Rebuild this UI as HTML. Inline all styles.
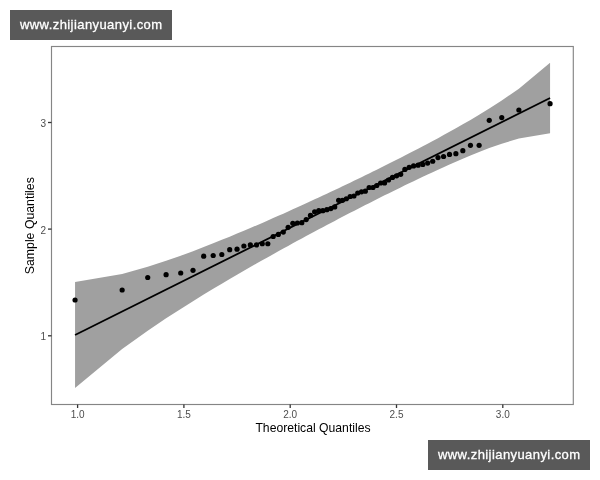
<!DOCTYPE html>
<html><head><meta charset="utf-8"><style>
html,body{margin:0;padding:0;background:#fff;width:600px;height:480px;overflow:hidden}
.wm{position:absolute;background:#595959;color:#fff;font-family:"Liberation Sans",sans-serif;font-size:13px;letter-spacing:0.42px;-webkit-text-stroke:0.3px #fff;white-space:nowrap;will-change:transform}
svg text{font-family:"Liberation Sans",sans-serif}
</style></head><body>
<svg width="600" height="480" viewBox="0 0 600 480" style="position:absolute;left:0;top:0;will-change:transform">
<rect x="0" y="0" width="600" height="480" fill="#fff"/>
<polygon points="75.05,281.88 122.15,273.96 147.73,266.76 166.10,260.79 180.72,255.66 193.01,251.13 203.69,247.05 213.20,243.32 221.81,239.87 229.71,236.65 237.04,233.62 243.89,230.75 250.34,228.02 256.46,225.40 262.28,222.88 267.84,220.46 273.18,218.11 278.33,215.84 283.31,213.63 288.13,211.47 292.82,209.36 297.38,207.29 301.84,205.26 306.19,203.27 310.46,201.31 314.66,199.37 318.78,197.46 322.85,195.57 326.85,193.69 330.82,191.83 334.74,189.98 338.62,188.14 342.48,186.31 346.31,184.48 350.13,182.65 353.93,180.82 357.72,178.99 361.52,177.15 365.31,175.30 369.12,173.44 372.94,171.56 376.78,169.67 380.65,167.75 384.55,165.81 388.50,163.83 392.50,161.82 396.55,159.78 400.68,157.68 404.88,155.54 409.18,153.33 413.59,151.05 418.12,148.69 422.80,146.24 427.65,143.68 432.71,140.99 438.00,138.14 443.58,135.11 449.52,131.84 455.89,128.29 462.81,124.36 470.47,119.93 479.13,114.79 489.26,108.57 501.76,100.52 518.88,88.63 550.07,62.65 550.07,133.35 518.88,138.51 501.76,143.68 489.26,148.11 479.13,152.00 470.47,155.50 462.81,158.71 455.89,161.70 449.52,164.50 443.58,167.15 438.00,169.69 432.71,172.13 427.65,174.48 422.80,176.76 418.12,178.97 413.59,181.14 409.18,183.26 404.88,185.34 400.68,187.39 396.55,189.41 392.50,191.41 388.50,193.39 384.55,195.36 380.65,197.31 376.78,199.25 372.94,201.19 369.12,203.13 365.31,205.07 361.52,207.01 357.72,208.95 353.93,210.90 350.13,212.87 346.31,214.85 342.48,216.84 338.62,218.85 334.74,220.89 330.82,222.95 326.85,225.05 322.85,227.17 318.78,229.33 314.66,231.54 310.46,233.78 306.19,236.08 301.84,238.44 297.38,240.86 292.82,243.35 288.13,245.91 283.31,248.57 278.33,251.32 273.18,254.18 267.84,257.16 262.28,260.29 256.46,263.59 250.34,267.07 243.89,270.77 237.04,274.74 229.71,279.02 221.81,283.68 213.20,288.82 203.69,294.58 193.01,301.17 180.72,308.90 166.10,318.36 147.73,330.72 122.15,349.05 75.05,388.12" fill="#a0a0a0"/>
<line x1="75.05" y1="335.00" x2="550.07" y2="98.00" stroke="#000" stroke-width="1.8"/>
<g fill="#000"><circle cx="75.05" cy="300.00" r="2.6"/><circle cx="122.15" cy="290.00" r="2.6"/><circle cx="147.73" cy="277.50" r="2.6"/><circle cx="166.10" cy="274.70" r="2.6"/><circle cx="180.72" cy="273.00" r="2.6"/><circle cx="193.01" cy="270.30" r="2.6"/><circle cx="203.69" cy="256.20" r="2.6"/><circle cx="213.20" cy="255.50" r="2.6"/><circle cx="221.81" cy="254.50" r="2.6"/><circle cx="229.71" cy="249.70" r="2.6"/><circle cx="237.04" cy="249.20" r="2.6"/><circle cx="243.89" cy="246.00" r="2.6"/><circle cx="250.34" cy="244.90" r="2.6"/><circle cx="256.46" cy="244.90" r="2.6"/><circle cx="262.28" cy="243.75" r="2.6"/><circle cx="267.84" cy="243.75" r="2.6"/><circle cx="273.18" cy="236.50" r="2.6"/><circle cx="278.33" cy="234.40" r="2.6"/><circle cx="283.31" cy="232.10" r="2.6"/><circle cx="288.13" cy="227.30" r="2.6"/><circle cx="292.82" cy="223.30" r="2.6"/><circle cx="297.38" cy="223.00" r="2.6"/><circle cx="301.84" cy="222.70" r="2.6"/><circle cx="306.19" cy="219.60" r="2.6"/><circle cx="310.46" cy="215.40" r="2.6"/><circle cx="314.66" cy="211.80" r="2.6"/><circle cx="318.78" cy="210.70" r="2.6"/><circle cx="322.85" cy="210.70" r="2.6"/><circle cx="326.85" cy="209.70" r="2.6"/><circle cx="330.82" cy="208.60" r="2.6"/><circle cx="334.74" cy="206.90" r="2.6"/><circle cx="338.62" cy="200.30" r="2.6"/><circle cx="342.48" cy="200.30" r="2.6"/><circle cx="346.31" cy="198.75" r="2.6"/><circle cx="350.13" cy="196.50" r="2.6"/><circle cx="353.93" cy="196.00" r="2.6"/><circle cx="357.72" cy="193.00" r="2.6"/><circle cx="361.52" cy="191.80" r="2.6"/><circle cx="365.31" cy="191.20" r="2.6"/><circle cx="369.12" cy="187.50" r="2.6"/><circle cx="372.94" cy="187.50" r="2.6"/><circle cx="376.78" cy="185.50" r="2.6"/><circle cx="380.65" cy="183.00" r="2.6"/><circle cx="384.55" cy="183.00" r="2.6"/><circle cx="388.50" cy="180.00" r="2.6"/><circle cx="392.50" cy="177.40" r="2.6"/><circle cx="396.55" cy="175.80" r="2.6"/><circle cx="400.68" cy="174.30" r="2.6"/><circle cx="404.88" cy="169.40" r="2.6"/><circle cx="409.18" cy="167.30" r="2.6"/><circle cx="413.59" cy="165.90" r="2.6"/><circle cx="418.12" cy="165.20" r="2.6"/><circle cx="422.80" cy="164.40" r="2.6"/><circle cx="427.65" cy="163.10" r="2.6"/><circle cx="432.71" cy="161.25" r="2.6"/><circle cx="438.00" cy="157.60" r="2.6"/><circle cx="443.58" cy="156.50" r="2.6"/><circle cx="449.52" cy="154.40" r="2.6"/><circle cx="455.89" cy="153.70" r="2.6"/><circle cx="462.81" cy="150.70" r="2.6"/><circle cx="470.47" cy="145.30" r="2.6"/><circle cx="479.13" cy="145.30" r="2.6"/><circle cx="489.26" cy="120.30" r="2.6"/><circle cx="501.76" cy="117.60" r="2.6"/><circle cx="518.88" cy="110.00" r="2.6"/><circle cx="550.07" cy="103.70" r="2.6"/></g>
<rect x="51.5" y="46.5" width="521.8" height="358" fill="none" stroke="#858585" stroke-width="1.15"/>
<g stroke="#333" stroke-width="1.3">
<line x1="48" y1="335.8" x2="51.5" y2="335.8"/>
<line x1="48" y1="229.1" x2="51.5" y2="229.1"/>
<line x1="48" y1="122.5" x2="51.5" y2="122.5"/>
<line x1="77.6" y1="404.5" x2="77.6" y2="408"/>
<line x1="183.9" y1="404.5" x2="183.9" y2="408"/>
<line x1="290.2" y1="404.5" x2="290.2" y2="408"/>
<line x1="396.5" y1="404.5" x2="396.5" y2="408"/>
<line x1="502.8" y1="404.5" x2="502.8" y2="408"/>
</g>
<g fill="#4d4d4d" font-size="10" text-anchor="middle">
<text x="77.6" y="418">1.0</text>
<text x="183.9" y="418">1.5</text>
<text x="290.2" y="418">2.0</text>
<text x="396.5" y="418">2.5</text>
<text x="502.8" y="418">3.0</text>
</g>
<g fill="#4d4d4d" font-size="10" text-anchor="end">
<text x="46" y="340.3">1</text>
<text x="46" y="233.6">2</text>
<text x="46" y="127">3</text>
</g>
<text x="313" y="431.6" font-size="12.2" text-anchor="middle" fill="#000">Theoretical Quantiles</text>
<text transform="translate(34.4,225.7) rotate(-90)" font-size="12.3" text-anchor="middle" fill="#000">Sample Quantiles</text>
</svg>
<div class="wm" style="left:10px;top:10px;width:162px;height:30px;line-height:30px;text-indent:10px">www.zhijianyuanyi.com</div>
<div class="wm" style="left:428px;top:440px;width:162px;height:30px;line-height:30px;text-indent:10px">www.zhijianyuanyi.com</div>
</body></html>
